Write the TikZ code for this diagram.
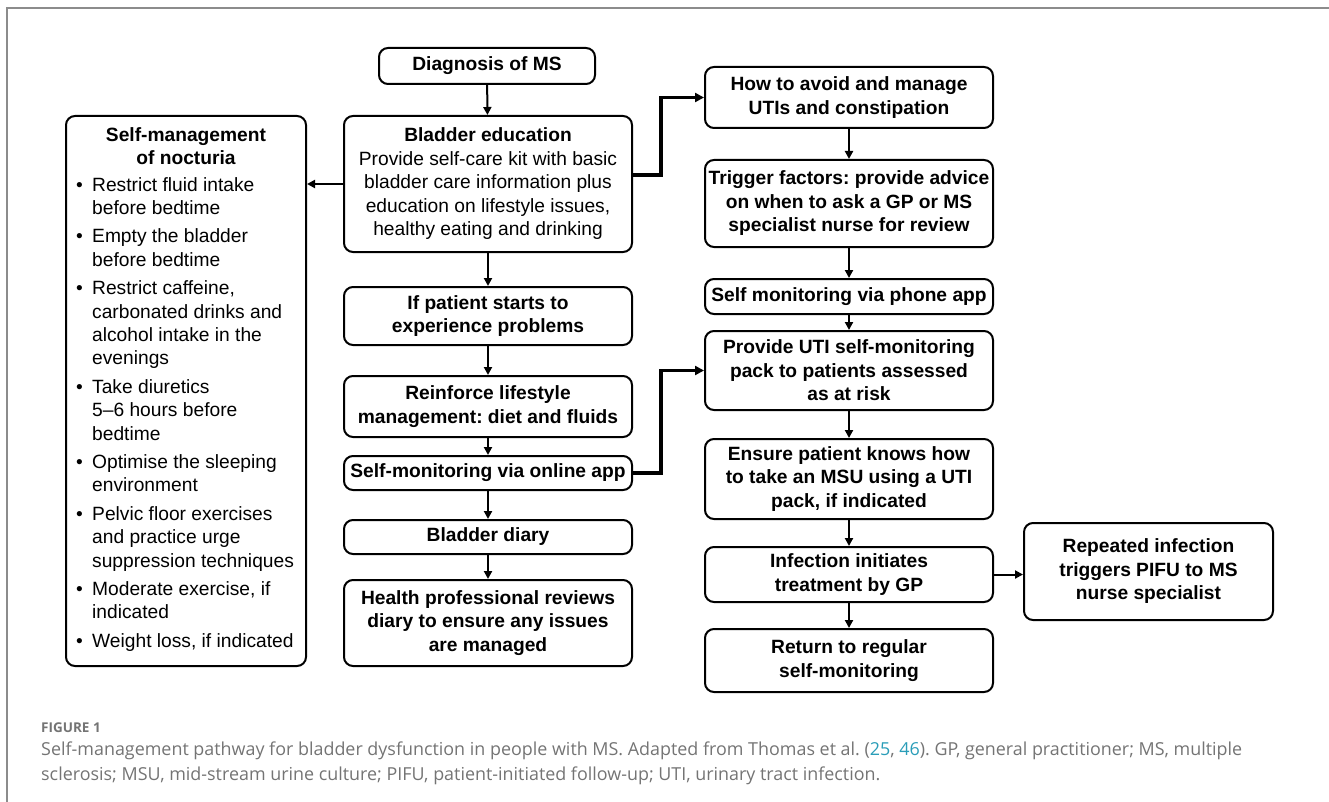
\documentclass[tikz,border=0pt]{standalone}
\usepackage{fontspec}
\setmainfont{Liberation Sans}
\newfontfamily\capfont{Open Sans}
\usepackage{xcolor}
\usetikzlibrary{arrows.meta,positioning,calc}

\definecolor{capgray}{HTML}{747474}
\definecolor{framegray}{HTML}{8C8C8C}
\definecolor{citeblue}{HTML}{2A9DB8}

\newcommand{\noctbul}{\makebox[16pt][l]{\textbullet}}
\newcommand{\noctind}{\hspace*{16pt}}
\frenchspacing

\begin{document}
\begin{tikzpicture}[
    x=1pt, y=-1pt,
    box/.style={rectangle, draw, line width=2pt, rounded corners=9pt, align=center,
        inner xsep=2pt, inner ysep=0pt, minimum width=288pt,
        font=\fontsize{19.2}{23.5}\selectfont\bfseries},
    arrow/.style={-{Triangle[length=8pt,width=8pt]}, line width=2pt},
    link/.style={-{Triangle[length=9pt,width=9pt]}, line width=3.5pt}
]
\useasboundingbox (0,0) rectangle (1329,802);

% Frame
\draw[framegray, line width=2pt] (7,802) -- (7,8) -- (1329,8);

% Middle column
\node[box, minimum width=216pt, minimum height=36pt] (diag) at (487,66) {Diagnosis of MS};
\node[box, minimum height=136pt] (bladder) at (488,184) {Bladder education\\
    \mdseries Provide self-care kit with basic\\
    \mdseries bladder care information plus\\
    \mdseries education on lifestyle issues,\\
    \mdseries healthy eating and drinking};
\node[box, minimum height=58pt] (problems) at (488,316) {If patient starts to\\experience problems};
\node[box, minimum height=61pt] (reinforce) at (488,406.5) {Reinforce lifestyle\\management: diet and fluids};
\node[box, minimum height=34pt] (online) at (488,473) {Self-monitoring via online app};
\node[box, minimum height=34pt] (diary) at (488,537) {Bladder diary};
\node[box, minimum height=86pt] (review) at (488,623) {Health professional reviews\\diary to ensure any issues\\are managed};

% Nocturia box
\node[box, minimum width=240pt, minimum height=550pt] (noct) at (186,391) {};
\node[font=\fontsize{19.2}{23.5}\selectfont\bfseries, align=center] (nocthead) at (186,146) {Self-management\\of nocturia};
\node[anchor=north west, align=left, inner sep=0pt, font=\fontsize{19.2}{23.4}\selectfont] (noctlist) at (76,177) {%
    \noctbul Restrict fluid intake\\ \noctind before bedtime\\[5pt]
    \noctbul Empty the bladder\\ \noctind before bedtime\\[5pt]
    \noctbul Restrict caffeine,\\ \noctind carbonated drinks and\\ \noctind alcohol intake in the\\ \noctind evenings\\[5pt]
    \noctbul Take diuretics\\ \noctind 5–6 hours before\\ \noctind bedtime\\[5pt]
    \noctbul Optimise the sleeping\\ \noctind environment\\[5pt]
    \noctbul Pelvic floor exercises\\ \noctind and practice urge\\ \noctind suppression techniques\\[5pt]
    \noctbul Moderate exercise, if\\ \noctind indicated\\[5pt]
    \noctbul Weight loss, if indicated};

% Right column
\node[box, minimum height=61pt] (avoid) at (849,97.5) {How to avoid and manage\\UTIs and constipation};
\node[box, minimum height=87pt] (trigger) at (849,203.5) {Trigger factors: provide advice\\on when to ask a GP or MS\\specialist nurse for review};
\node[box, minimum height=35pt] (phone) at (849,296.5) {Self monitoring via phone app};
\node[box, minimum height=79pt] (utipack) at (849,370.5) {Provide UTI self-monitoring\\pack to patients assessed\\as at risk};
\node[box, minimum height=80pt] (msu) at (849,479) {Ensure patient knows how\\to take an MSU using a UTI\\pack, if indicated};
\node[box, minimum height=55pt] (infect) at (849,574.5) {Infection initiates\\treatment by GP};
\node[box, minimum height=63pt] (regular) at (849,660.5) {Return to regular\\self-monitoring};
\node[box, minimum width=249pt, minimum height=97pt] (pifu) at (1148.5,571.5) {Repeated infection\\triggers PIFU to MS\\nurse specialist};

% Connections
\draw[arrow] (diag) -- (bladder);
\draw[arrow] (bladder.west) -- (bladder.west -| noct.east);
\draw[arrow] (bladder) -- (problems);
\draw[arrow] (problems) -- (reinforce);
\draw[arrow] (reinforce) -- (online);
\draw[arrow] (online) -- (diary);
\draw[arrow] (diary) -- (review);

\draw[link] ([yshift=9pt]bladder.east) -- ++(28,0) |- (avoid.west);
\draw[link] (online.east) -- ++(28,0) |- (utipack.west);

\draw[arrow] (avoid) -- (trigger);
\draw[arrow] (trigger) -- (phone);
\draw[arrow] (phone) -- (utipack);
\draw[arrow] (utipack) -- (msu);
\draw[arrow] (msu) -- (infect);
\draw[arrow] (infect) -- (regular);
\draw[arrow] (infect.east) -- (infect.east -| pifu.west);

% Caption
\node[anchor=base west, inner sep=0pt, text=capgray, font=\capfont\bfseries\fontsize{13.5}{16}\selectfont] (figlabel) at (41,732) {FIGURE 1};
\node[anchor=north west, align=left, inner sep=0pt, text=capgray, font=\capfont\fontsize{17.9}{25}\selectfont] (caption) at (41,742) {Self-management pathway for bladder dysfunction in people with MS. Adapted from Thomas et al. ({\color{citeblue}25}, {\color{citeblue}46}). GP, general practitioner; MS, multiple\\
    sclerosis; MSU, mid-stream urine culture; PIFU, patient-initiated follow-up; UTI, urinary tract infection.};
\end{tikzpicture}
\end{document}
